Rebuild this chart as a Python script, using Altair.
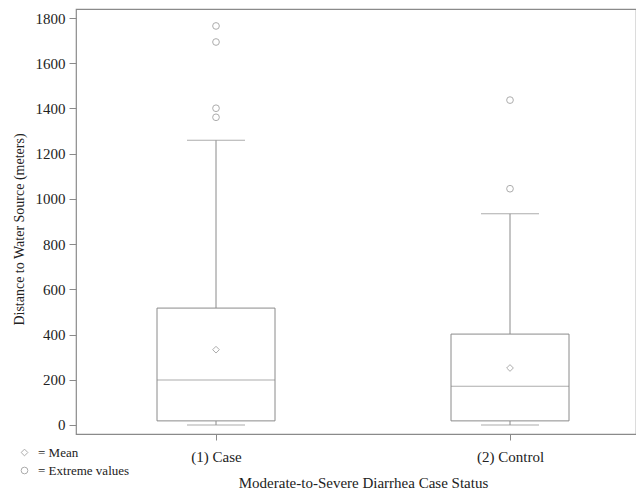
import altair as alt
import pandas as pd

groups = ["(1) Case", "(2) Control"]
q1 = [18, 18]
median = [199, 171]
q3 = [517, 402]
whisker_low = [0, 0]
whisker_high = [1259, 934]
means = [333, 252]
outlier_group = ["(1) Case", "(1) Case", "(1) Case", "(1) Case", "(2) Control", "(2) Control"]
outlier_values = [1765, 1694, 1401, 1361, 1437, 1045]

GRAY = "#8a8a8a"
FONT = "Liberation Serif"

box_df = pd.DataFrame({
    "group": groups, "q1": q1, "median": median, "q3": q3,
    "lo": whisker_low, "hi": whisker_high,
})
pts_df = pd.concat([
    pd.DataFrame({"group": groups, "value": means, "kind": "= Mean"}),
    pd.DataFrame({"group": outlier_group, "value": outlier_values, "kind": "= Extreme values"}),
], ignore_index=True)

x_enc = alt.X("group:N", title="Moderate-to-Severe Diarrhea Case Status",
              scale=alt.Scale(type="point", domain=groups, range=[140, 434], padding=0),
              axis=alt.Axis(labelAngle=0, tickSize=6, labelPadding=9, titlePadding=11,
                            domain=False, tickColor=GRAY, labelFontSize=15, titleFontSize=15))
y_scale = alt.Scale(domain=[-40, 1840], nice=False, zero=False)
y_axis = alt.Axis(values=list(range(0, 1801, 200)), format="d", tickSize=7, labelPadding=4,
                  titlePadding=9, titleY=220, titleAlign="center", domain=False, grid=False,
                  tickColor=GRAY, labelFontSize=15, titleFontSize=14)

base = alt.Chart(box_df)
whisker = base.mark_rule(color=GRAY, strokeWidth=1).encode(
    x=x_enc,
    y=alt.Y("lo:Q", scale=y_scale, axis=y_axis, title="Distance to Water Source (meters)"),
    y2="hi:Q",
)
box = base.mark_bar(size=118, fill="white", stroke=GRAY, strokeWidth=1).encode(
    x=x_enc, y=alt.Y("q1:Q", scale=y_scale), y2="q3:Q",
)
med = base.mark_tick(size=118, thickness=1, color=GRAY).encode(
    x=x_enc, y=alt.Y("median:Q", scale=y_scale),
)
cap_lo = base.mark_tick(size=58, thickness=1, color=GRAY).encode(
    x=x_enc, y=alt.Y("lo:Q", scale=y_scale),
)
cap_hi = base.mark_tick(size=58, thickness=1, color=GRAY).encode(
    x=x_enc, y=alt.Y("hi:Q", scale=y_scale),
)
points = alt.Chart(pts_df).mark_point(filled=False, color=GRAY, size=45, strokeWidth=1).encode(
    x=x_enc,
    y=alt.Y("value:Q", scale=y_scale),
    shape=alt.Shape("kind:N",
                    scale=alt.Scale(domain=["= Mean", "= Extreme values"], range=["diamond", "circle"]),
                    legend=alt.Legend(title=None, orient="none", legendX=-58, legendY=437,
                                      padding=0, rowPadding=4, symbolStrokeColor=GRAY,
                                      symbolStrokeWidth=1, symbolSize=45,
                                      labelFont=FONT, labelFontSize=13, labelColor="#222",
                                      labelOffset=7)),
)

chart = alt.layer(whisker, box, med, cap_lo, cap_hi, points).properties(
    width=560, height=425,
    autosize=alt.AutoSizeParams(type="none"),
    padding={"left": 68, "top": 1, "right": 0, "bottom": 61},
).configure_view(stroke=GRAY, strokeWidth=1.2).configure_axis(
    labelFont=FONT, titleFont=FONT,
    labelColor="#222", titleColor="#222", titleFontWeight="normal",
)

chart.save("out.html", embed_options={"renderer": "svg", "actions": False})
